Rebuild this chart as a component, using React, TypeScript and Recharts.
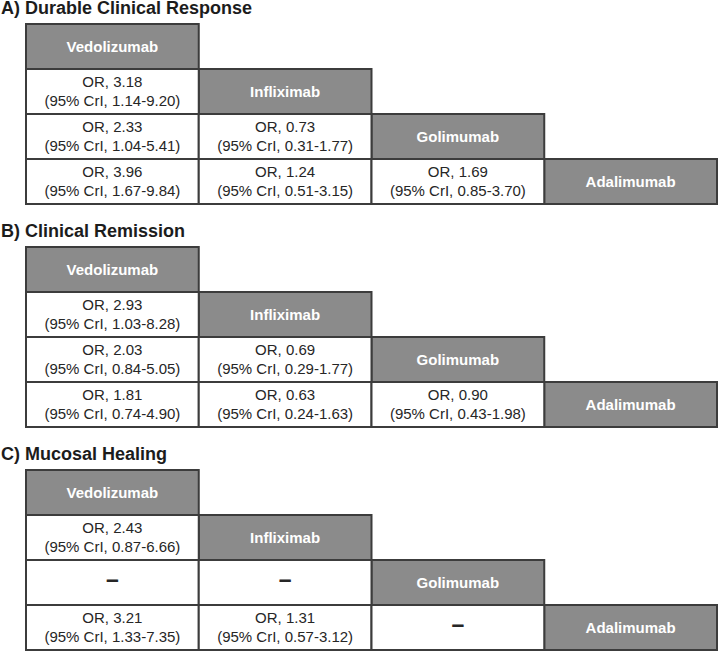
import { ScatterChart, Scatter, XAxis, YAxis, ReferenceArea } from 'recharts'

const drugs = ['Vedolizumab', 'Infliximab', 'Golimumab', 'Adalimumab']
const panelTitles = ['A) Durable Clinical Response', 'B) Clinical Remission', 'C) Mucosal Healing']

// lower triangle: row i (1..3), col j (< i); null = no estimate
const orA = [[3.18], [2.33, 0.73], [3.96, 1.24, 1.69]]
const criA = [['1.14-9.20'], ['1.04-5.41', '0.31-1.77'], ['1.67-9.84', '0.51-3.15', '0.85-3.70']]

const orB = [[2.93], [2.03, 0.69], [1.81, 0.63, 0.9]]
const criB = [['1.03-8.28'], ['0.84-5.05', '0.29-1.77'], ['0.74-4.90', '0.24-1.63', '0.43-1.98']]

const orC = [[2.43], [null, null], [3.21, 1.31, null]]
const criC = [['0.87-6.66'], [null, null], ['1.33-7.35', '0.57-3.12', null]]

const panelOr = [orA, orB, orC]
const panelCri = [criA, criB, criC]

const FONT = '"Liberation Sans", Arial, Helvetica, sans-serif'
const HEADER_FILL = '#8b8b8b'
const BORDER = '#3c3c3c'
const TEXT = '#262626'
const PANEL_STEP = 223

interface CellDatum {
  x: number
  y: number
  kind: 'header' | 'value' | 'missing'
  line1: string
  line2: string
}

function buildCells(or: (number | null)[][], cri: (string | null)[][]): CellDatum[] {
  const cells: CellDatum[] = []
  drugs.forEach((d, i) => {
    cells.push({ x: i + 0.5, y: i + 0.5, kind: 'header', line1: d, line2: '' })
    for (let j = 0; j < i; j++) {
      const v = or[i - 1][j]
      const c = cri[i - 1][j]
      if (v === null || c === null) {
        cells.push({ x: j + 0.5, y: i + 0.5, kind: 'missing', line1: '–', line2: '' })
      } else {
        cells.push({
          x: j + 0.5,
          y: i + 0.5,
          kind: 'value',
          line1: `OR, ${v.toFixed(2)}`,
          line2: `(95% CrI, ${c})`,
        })
      }
    }
  })
  return cells
}

function CellText(props: any) {
  const { cx, cy, payload } = props
  if (cx == null || cy == null || !payload) return null
  const p = payload as CellDatum
  if (p.kind === 'header') {
    return (
      <text x={cx} y={cy + 5} textAnchor="middle" fill="#ffffff" fontFamily={FONT} fontSize={15} fontWeight="bold">
        {p.line1}
      </text>
    )
  }
  if (p.kind === 'missing') {
    return (
      <text x={cx} y={cy + 4} textAnchor="middle" fill={TEXT} fontFamily={FONT} fontSize={23} fontWeight="bold">
        {p.line1}
      </text>
    )
  }
  return (
    <g>
      <text x={cx} y={cy - 5} textAnchor="middle" fill={TEXT} fontFamily={FONT} fontSize={15}>
        {p.line1}
      </text>
      <text x={cx} y={cy + 14} textAnchor="middle" fill={TEXT} fontFamily={FONT} fontSize={15}>
        {p.line2}
      </text>
    </g>
  )
}

function LeagueTable({ index }: { index: number }) {
  const cells = buildCells(panelOr[index], panelCri[index])
  const top = index * PANEL_STEP
  return (
    <>
      <div
        style={{
          position: 'absolute',
          left: 1,
          top: top,
          fontFamily: FONT,
          fontWeight: 'bold',
          fontSize: 18,
          lineHeight: '16px',
          color: '#1c1c1c',
          whiteSpace: 'nowrap',
        }}
      >
        {panelTitles[index]}
      </div>
      <div style={{ position: 'absolute', left: 25, top: top + 23 }}>
        <ScatterChart width={693} height={182} margin={{ top: 1, right: 1, bottom: 1, left: 1 }}>
          <XAxis type="number" dataKey="x" domain={[0, 4]} allowDataOverflow hide />
          <YAxis type="number" dataKey="y" domain={[0, 4]} allowDataOverflow reversed hide />
          {cells.map((c, k) => (
            <ReferenceArea
              key={k}
              x1={c.x - 0.5}
              x2={c.x + 0.5}
              y1={c.y - 0.5}
              y2={c.y + 0.5}
              fill={c.kind === 'header' ? HEADER_FILL : '#ffffff'}
              fillOpacity={1}
              stroke={BORDER}
              strokeWidth={2}
              ifOverflow="visible"
            />
          ))}
          <Scatter data={cells} shape={(p: any) => <CellText {...p} />} isAnimationActive={false} />
        </ScatterChart>
      </div>
    </>
  )
}

export default function App() {
  return (
    <div style={{ position: 'absolute', left: 0, top: 0, width: 718, height: 651, background: '#ffffff', overflow: 'hidden' }}>
      {panelTitles.map((_, i) => (
        <LeagueTable key={i} index={i} />
      ))}
    </div>
  )
}
